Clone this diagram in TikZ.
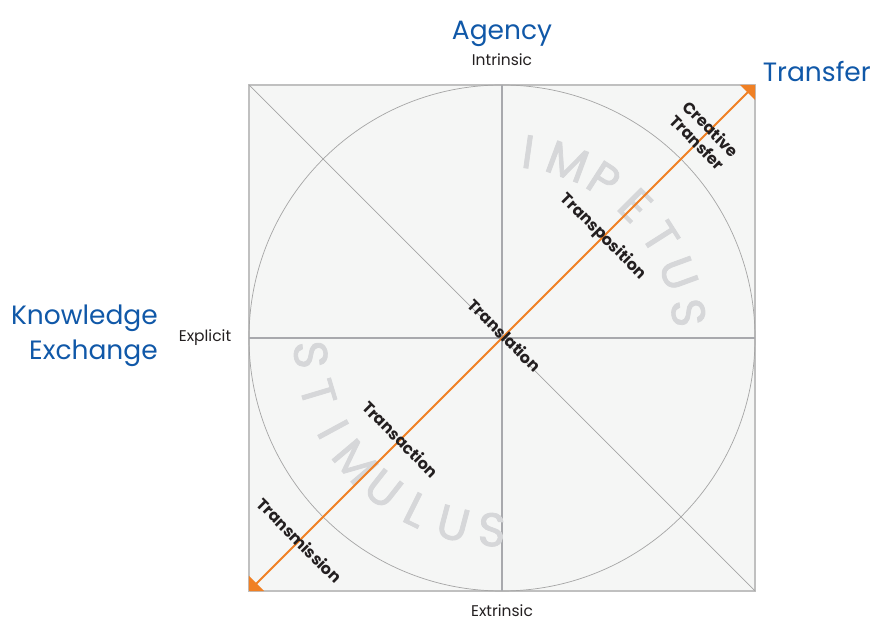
\documentclass[tikz,border=0pt]{standalone}
\usepackage{fontspec}
\setmainfont{Poppins}
\newfontfamily\arcfont[FakeBold=1.6]{Poppins}
\usepackage{xcolor}
\usetikzlibrary{positioning, arrows.meta}

\definecolor{kblue}{RGB}{16,88,168}
\definecolor{korange}{RGB}{240,128,36}
\definecolor{kgrid}{RGB}{168,169,173}
\definecolor{kthin}{RGB}{165,165,165}
\definecolor{kframe}{RGB}{192,192,192}
\definecolor{kfill}{RGB}{245,246,245}
\definecolor{kletter}{RGB}{214,215,217}
\definecolor{ktext}{RGB}{35,31,32}

\tikzset{
    heading/.style={text=kblue, font=\fontsize{26.5}{30}\selectfont, inner sep=0},
    pole/.style={text=ktext, font=\fontsize{15.5}{16}\selectfont, inner sep=0},
    mode/.style={text=ktext, font=\bfseries\fontsize{16}{19}\selectfont, rotate=-45, align=center, inner sep=0},
    arcletter/.style={text=kletter, font=\arcfont\fontsize{47}{47}\selectfont, inner sep=0},
}

\begin{document}
\begin{tikzpicture}[x=1pt, y=1pt]
        \useasboundingbox (0,0) rectangle (873,621);
        \coordinate (C) at (502,283);
        \coordinate (BL) at (249,30);
        \coordinate (BR) at (755,30);
        \coordinate (TR) at (755,536);
        \coordinate (TL) at (249,536);
        \coordinate (L) at (249,283);
        \coordinate (R) at (755,283);
        \coordinate (T) at (502,536);
        \coordinate (B) at (502,30);
        \draw[kframe, fill=kfill, line width=1.2pt] (BL) rectangle (TR);
        \draw[kthin, line width=0.7pt] (C) circle (253);
        \draw[kthin, line width=0.7pt] (TL) -- (BR);
        \draw[kgrid, line width=1.8pt] (L) -- (R);
        \draw[kgrid, line width=1.8pt] (T) -- (B);
        % big letters round the circle
        \foreach \ch [count=\i from 0] in {I,M,P,E,T,U,S} {
            \node[arcletter, rotate={82-12.38*\i-90}] (imp\i) at ([shift={({82-12.38*\i}:188)}]C) {\ch};
        }
        \foreach \ch [count=\i from 0] in {S,T,I,M,U,L,U,S} {
            \node[arcletter, rotate={185+11.71*\i+90}] (stim\i) at ([shift={({185+11.71*\i}:192)}]C) {\ch};
        }
        % transfer axis
        \draw[korange, line width=1.8pt, {Triangle[angle=90:15pt]}-{Triangle[angle=90:15pt]}] (BL)
            -- node[mode, pos=0.1] (transmission) {Transmission}
               node[mode, pos=0.3] (transaction) {Transaction}
               node[mode, pos=0.5, yshift=4pt] (translation) {Translation}
               node[mode, pos=0.7] (transposition) {Transposition}
               node[mode, pos=0.9] (creative) {Creative\\Transfer} (TR);
        \node[heading, anchor=base] (agency) at (502,581) {Agency};
        \node[pole, anchor=base] (intrinsic) at (502,555) {Intrinsic};
        \node[pole, anchor=base] (extrinsic) at (502,4) {Extrinsic};
        \node[pole, anchor=base] (explicit) at (205,279) {Explicit};
        \node[heading, anchor=base east] (transfer) at (871,539) {Transfer};
        \node[heading, anchor=base east] (knowledge) at (158,296) {Knowledge};
        \node[heading, anchor=base east] (exchange) at (158,261) {Exchange};
    \end{tikzpicture}
\end{document}
